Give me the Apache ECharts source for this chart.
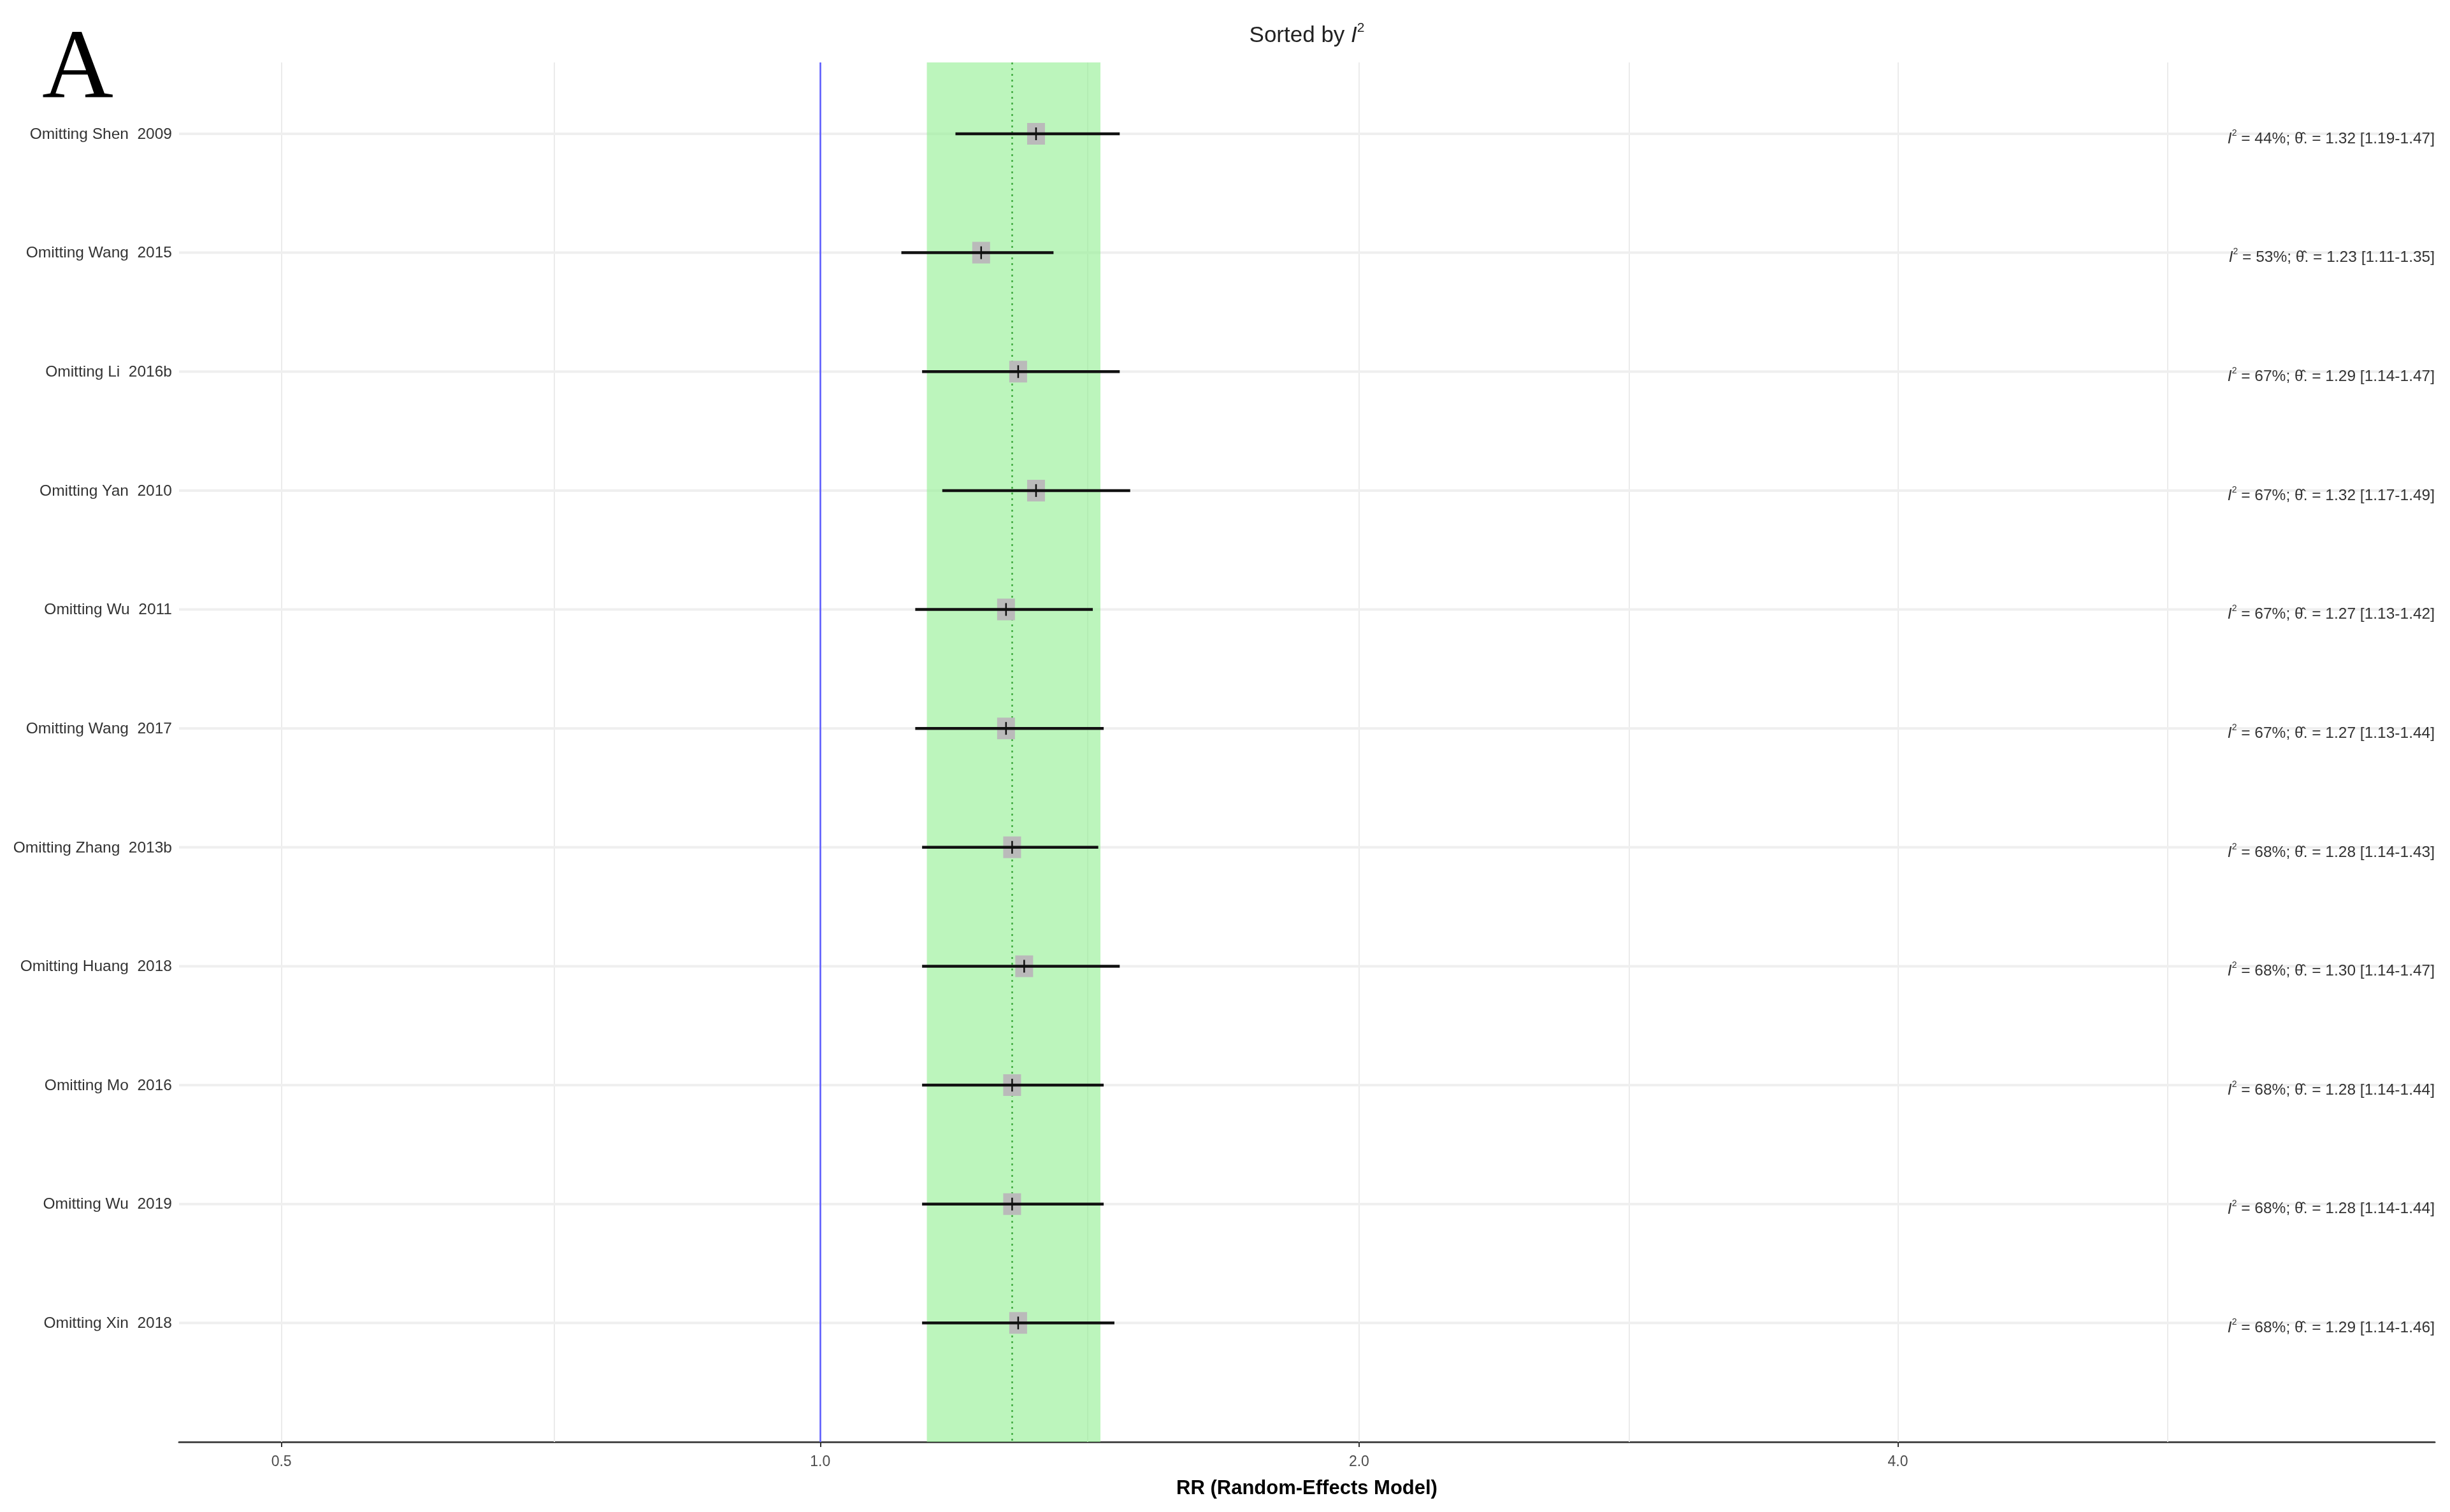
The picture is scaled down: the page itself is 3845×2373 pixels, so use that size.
<!DOCTYPE html>
<html><head><meta charset="utf-8">
<script src="https://cdn.jsdelivr.net/npm/echarts@6/dist/echarts.min.js"></script>
<style>html,body{margin:0;padding:0;background:#fff}#c{width:3845px;height:2373px}</style>
</head><body><div id="c"></div>
<script>
// ---- data ----
const studies = ['Omitting Shen  2009','Omitting Wang  2015','Omitting Li  2016b','Omitting Yan  2010','Omitting Wu  2011','Omitting Wang  2017','Omitting Zhang  2013b','Omitting Huang  2018','Omitting Mo  2016','Omitting Wu  2019','Omitting Xin  2018'];
const i2Values = [44,53,67,67,67,67,68,68,68,68,68];
const estimates = [1.32,1.23,1.29,1.32,1.27,1.27,1.28,1.30,1.28,1.28,1.29];
const lowerCI = [1.19,1.11,1.14,1.17,1.13,1.13,1.14,1.14,1.14,1.14,1.14];
const upperCI = [1.47,1.35,1.47,1.49,1.42,1.44,1.43,1.47,1.44,1.44,1.46];
const pooledEstimate = 1.285;
const pooledCI = [1.147, 1.434];
const referenceValue = 1;
const xTickValues = [0.5, 1, 2, 4];
const xMinorGridValues = [0.7071, 1.4142, 2.8284, 5.6569];
const xRange = [0.4383, 7.98];
const yRange = [0.4, 12];

const FONT = '"Liberation Sans", Arial, sans-serif';
const rows = studies.map((s, i) => i + 1);
const forestData = studies.map((s, i) => [rows[i], lowerCI[i], upperCI[i], estimates[i], i]);

const chart = echarts.init(document.getElementById('c'), null, {renderer: 'canvas'});

const grid = {left: 281, right: 24, top: 98, bottom: 110, containLabel: false};
const panelCenter = grid.left + (3845 - grid.left - grid.right) / 2;

function fmtAnno(i) {
  return '{i|I}{s|2}{t| = ' + i2Values[i] + '%; θ̂. = ' + estimates[i].toFixed(2) +
    ' [' + lowerCI[i].toFixed(2) + '-' + upperCI[i].toFixed(2) + ']}';
}

const option = {
  backgroundColor: '#ffffff',
  animation: false,
  grid: grid,
  xAxis: {
    type: 'log', logBase: 2, min: xRange[0], max: xRange[1],
    axisLine: {show: true, lineStyle: {color: '#4a4a4a', width: 3}},
    axisTick: {show: true, customValues: xTickValues, length: 8, lineStyle: {color: '#333', width: 2}},
    axisLabel: {customValues: xTickValues, formatter: v => Number(v).toFixed(1), fontSize: 23, color: '#4d4d4d', margin: 20, fontFamily: FONT},
    splitLine: {show: false},
    name: 'RR (Random-Effects Model)', nameLocation: 'middle', nameGap: 58,
    nameTextStyle: {fontWeight: 'bold', fontSize: 31, color: '#000', fontFamily: FONT}
  },
  yAxis: {
    type: 'value', inverse: true, min: yRange[0], max: yRange[1],
    axisLine: {show: false}, axisTick: {show: false}, axisLabel: {show: false}, splitLine: {show: false}
  },
  graphic: [
    {type: 'text', x: panelCenter, y: 56, style: {
      text: '{a|Sorted by }{i|I}{s|2}', align: 'center', verticalAlign: 'middle',
      rich: {
        a: {fontSize: 35, fontFamily: FONT, fill: '#222', lineHeight: 44},
        i: {fontSize: 35, fontFamily: FONT, fontStyle: 'italic', fill: '#222', lineHeight: 44},
        s: {fontSize: 21, fontFamily: FONT, fill: '#222', lineHeight: 44, verticalAlign: 'top'}
      }}},
    {type: 'text', x: 66, y: 34, style: {text: 'A', font: 'normal 155px "Liberation Serif", "DejaVu Serif", serif', fill: '#000', verticalAlign: 'top'}}
  ],
  series: [
    { // vertical grid lines
      type: 'scatter', data: [], z: 1, silent: true,
      markLine: {
        z: 1, silent: true, symbol: ['none', 'none'], label: {show: false},
        lineStyle: {color: '#ebebeb', width: 2, type: 'solid'},
        data: xTickValues.concat(xMinorGridValues).map(v => ({xAxis: v}))
      }
    },
    { // horizontal row grid lines
      type: 'custom', z: 1, silent: true,
      data: rows.map(r => [r]),
      encode: {y: 0},
      renderItem: function (params, api) {
        const r = api.value(0);
        const p1 = api.coord([xRange[0], r]);
        const p2 = api.coord([xRange[1], r]);
        return {type: 'line', shape: {x1: p1[0], y1: p1[1], x2: p2[0], y2: p2[1]},
          style: {stroke: '#efefef', lineWidth: 4}};
      }
    },
    { // pooled CI band + reference lines
      type: 'scatter', data: [], z: 2, silent: true,
      markArea: {
        z: 2, silent: true,
        itemStyle: {color: 'rgba(144,238,144,0.6)'},
        data: [[{xAxis: pooledCI[0]}, {xAxis: pooledCI[1]}]]
      },
      markLine: {
        z: 3, silent: true, symbol: ['none', 'none'], label: {show: false},
        data: [
          {xAxis: referenceValue, lineStyle: {color: '#5a5aff', width: 2.5, type: 'solid'}},
          {xAxis: pooledEstimate, lineStyle: {color: '#3faa3f', width: 2.5, type: [3, 6]}}
        ]
      }
    },
    { // forest rows
      type: 'custom', z: 5, silent: true,
      data: forestData,
      encode: {x: [1, 2, 3], y: 0},
      renderItem: function (params, api) {
        const r = api.value(0), lo = api.value(1), hi = api.value(2), e = api.value(3), idx = api.value(4);
        const pLo = api.coord([lo, r]), pHi = api.coord([hi, r]), pE = api.coord([e, r]);
        const pLeft = api.coord([xRange[0], r]), pRight = api.coord([xRange[1], r]);
        return {type: 'group', children: [
          {type: 'rect', shape: {x: pE[0] - 14, y: pE[1] - 17, width: 28, height: 34}, style: {fill: '#bababa'}},
          {type: 'line', shape: {x1: pLo[0], y1: pLo[1], x2: pHi[0], y2: pHi[1]}, style: {stroke: '#111', lineWidth: 4.5}},
          {type: 'line', shape: {x1: pE[0], y1: pE[1] - 10, x2: pE[0], y2: pE[1] + 10}, style: {stroke: '#111', lineWidth: 2.5}},
          {type: 'text', x: pLeft[0] - 11, y: pLeft[1] + 1, style: {
            text: studies[idx], align: 'right', verticalAlign: 'middle',
            font: 'normal 24.5px ' + FONT, fill: '#333'}},
          {type: 'text', x: pRight[0], y: pRight[1] + 8, style: {
            text: fmtAnno(idx), align: 'right', verticalAlign: 'middle',
            rich: {
              i: {fontSize: 24.5, fontFamily: FONT, fontStyle: 'italic', fill: '#333', lineHeight: 32},
              s: {fontSize: 14, fontFamily: FONT, fill: '#333', lineHeight: 32, verticalAlign: 'top'},
              t: {fontSize: 24.5, fontFamily: FONT, fill: '#333', lineHeight: 32}
            }}}
        ]};
      }
    }
  ]
};
chart.setOption(option);
</script>
</body></html>
